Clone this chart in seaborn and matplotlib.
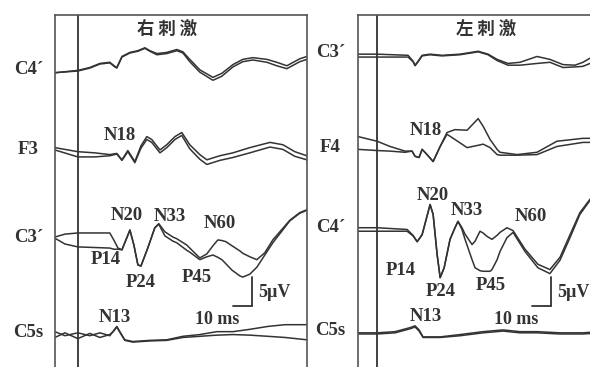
import numpy as np
import seaborn as sns
import matplotlib.pyplot as plt

# ---- traces: time (ms) and two overlaid sweeps (uV, relative to baseline) ----
# right stimulation (left panel)
r_c4_t = [-12.1, 0, 6.3, 11.6, 16.8, 19.5, 20.5, 23.2, 27.4, 31.6, 35.3, 37.9, 41.6, 46.8,
          52.1, 55.3, 58.9, 64.2, 71.1, 75.8, 81.6, 86.8, 92.1, 99.5, 104.7, 110.0, 116.8, 120.5]
r_c4_a = [-0.2, 0.2, 0.7, 1.4, 1.6, 0.9, 0.7, 2.6, 3.3, 3.6, 4.1, 3.6, 3.1, 3.3,
          3.8, 3.4, 2.1, 0.3, -1.0, -0.3, 1.2, 2.1, 2.4, 2.1, 1.6, 1.0, 2.2, 2.6]
r_c4_b = [-0.2, 0.1, 0.6, 1.3, 1.5, 0.8, 0.6, 2.5, 3.2, 3.5, 4.0, 3.5, 2.9, 3.1,
          3.6, 3.2, 1.7, -0.1, -1.5, -0.8, 0.8, 1.7, 2.0, 1.6, 1.0, 0.5, 1.7, 2.1]

r_f3_t = [-12.1, 0, 8.9, 16.8, 20.5, 23.2, 26.3, 30.0, 33.2, 36.3, 38.9, 43.2, 46.8,
          51.1, 54.7, 58.9, 64.2, 67.9, 74.7, 81.6, 90.5, 101.1, 107.9, 114.2, 120.5]
r_f3_a = [0.7, 0, -0.2, -0.5, -0.3, -1.4, 0.2, -1.7, 1.0, 2.6, 2.1, 0.3, 1.2,
          2.6, 3.3, 1.2, -0.5, -1.4, -0.7, -0.2, 0.7, 1.6, 1.2, 0, -0.7]
r_f3_b = [0.3, -0.9, -0.9, -0.7, -0.4, -1.5, 0.0, -1.9, 0.6, 2.1, 1.6, -0.2, 0.7,
          2.1, 2.8, 0.5, -1.3, -2.2, -1.5, -1.0, -0.2, 0.8, 0.4, -0.8, -1.4]

r_c3_t = [-12.1, -6.8, 0, 16.8, 18.9, 21.1, 23.2, 25.3, 27.4, 29.5, 31.6, 33.2, 36.8, 40.5,
          42.6, 45.8, 50.0, 52.1, 57.4, 58.9, 64.2, 67.9, 71.1, 73.7, 75.8, 77.9, 81.1, 85.3,
          86.8, 90.5, 94.2, 98.4, 102.6, 111.6, 116.8, 120.5]
r_c3_a = [0.5, 1.0, 1.2, 1.2, 0, -1.4, -1.7, 0, 1.7, -0.9, -4.3, -4.5, -1.4, 2.1,
          2.8, 1.4, 0.5, 0.2, -0.9, -1.4, -3.1, -2.4, -1.0, 0, -0.1, -0.3, -1.0, -1.9,
          -2.3, -2.9, -3.4, -2.2, 0, 3.4, 4.7, 5.2]
r_c3_b = [0.3, -0.7, -1.2, -1.4, -1.6, -1.6, -1.7, 0, 1.7, -0.9, -4.3, -4.5, -1.4, 2.1,
          2.7, 0.7, -0.2, -0.5, -1.8, -2.1, -3.4, -2.9, -2.6, -3.0, -3.4, -4.1, -5.2, -6.2,
          -6.4, -5.9, -4.7, -2.6, -0.5, 3.3, 4.6, 5.1]

r_c5_t = [-12.1, -6.8, 0, 6.3, 11.6, 16.8, 18.9, 20.5, 22.1, 24.7, 28.9, 37.9, 46.8,
          55.3, 64.2, 73.2, 81.6, 90.5, 100.0, 109.0, 120.5]
r_c5_a = [0.5, -0.2, 0.3, -0.2, 0.3, -0.2, 0.7, 1.4, 0.5, -0.9, -1.2, -1.0, -0.9,
          -0.3, 0, 0.5, 0.5, 0.9, 1.4, 1.7, 1.7]
r_c5_b = [-0.5, 0.3, -0.7, 0.2, -0.5, 0, 0.6, 1.3, 0.4, -1.0, -1.3, -1.1, -1.0,
          -0.5, -0.3, -0.1, 0, -0.1, -0.3, -0.5, -0.9]

# left stimulation (right panel)
l_c3_t = [-10, 0, 16.3, 18.9, 20, 21.6, 23.7, 27.9, 34.2, 43.7, 53.2, 58.4, 63.2, 68.9,
          75.3, 84.2, 91, 97.9, 104.2, 108.4, 112.1, 117.4]
l_c3_a = [0.2, 0.2, 0, -1.0, -1.7, -1.0, 0, 0.2, 0, 0.2, 0.7, 0.2, -0.7, -1.4,
          -1.2, -0.2, -0.7, -1.6, -1.7, -1.2, -0.5, -0.2]
l_c3_b = [-0.3, -0.3, -0.3, -1.1, -1.8, -1.1, -0.1, 0.1, -0.1, 0.1, 0.6, 0.1, -0.9, -1.7,
          -1.7, -1.4, -1.2, -2.1, -2.0, -1.9, -1.4, -0.9]

l_f4_t = [-10, 0, 6.8, 14.7, 18.4, 20, 22.1, 23.7, 26.3, 29.5, 33.2, 36.8, 41, 47.4,
          53.2, 55.8, 59.5, 63.2, 64.7, 73.7, 84.2, 94.7, 108.4, 117.4]
l_f4_a = [2.2, 1.4, 0.5, -0.3, -0.3, -1.2, -1.4, 0, -0.9, -2.1, 0.5, 2.9, 3.4, 3.3,
          5.3, 4.0, 1.7, 0, -0.5, -0.9, -0.5, 1.4, 1.9, 1.9]
l_f4_b = [0, -0.2, -0.3, -0.5, -0.3, -1.2, -1.4, 0, -0.9, -2.1, 0.5, 2.6, 1.7, 0.3,
          0.7, 0.9, 0.3, -0.9, -1.0, -1.0, -0.9, 0.5, 1.2, 1.2]

l_c4_t = [-10, 0, 15.8, 18.9, 21.1, 23.7, 25.8, 27.9, 29.5, 31.6, 33.2, 35.3, 38.4, 41,
          42.6, 44.7, 46.3, 50, 51.6, 54.2, 55.8, 57.9, 59.5, 60.5, 63.2, 64.7, 68.4, 71.6,
          77.9, 84.7, 91, 96.3, 101.6, 106.8, 112.1, 117.4]
l_c4_a = [0.3, 0.3, 0, -1.0, -2.1, -0.9, 1.7, 4.3, 2.6, -4.3, -8.3, -6.6, -1.7, 0.3,
          1.4, 0.3, -0.8, -2.6, -2.0, -0.3, -0.6, -1.2, -1.5, -1.7, -1.0, -0.5, 0.3, -0.2,
          -3.4, -6.0, -6.9, -4.8, -0.9, 2.9, 5.2, 6.9]
l_c4_b = [-0.3, -0.3, -0.3, -1.1, -2.1, -0.9, 1.7, 4.3, 2.6, -4.3, -8.3, -6.6, -1.7, 0.3,
          1.4, 0.0, -1.7, -5.2, -6.6, -7.1, -7.2, -7.2, -7.2, -6.9, -5.2, -3.8, -1.4, -0.5,
          -3.8, -6.6, -7.6, -5.3, -1.4, 2.6, 5.0, 6.7]

l_c5_t = [-10, 0, 9.5, 17.4, 20, 22.1, 24.2, 33.2, 43.7, 55.8, 66.3, 75.3, 84.2, 96.3, 108.4, 117.4]
l_c5_a = [0, 0, 0.2, 0.9, 1.2, 0.5, -0.7, -0.7, -0.3, 0.2, 0.5, 0.2, 0.2, 0, 0, 0.2]
l_c5_b = [-0.2, -0.2, 0, 0.7, 1.0, 0.3, -0.8, -0.8, -0.5, 0, 0.3, 0, 0, -0.2, -0.2, 0]

# channel names and their vertical offsets (uV)
r_names = ["C4\u00b4", "F3", "C3\u00b4", "C5s"]
r_offsets = [53.1, 39.3, 24.1, 7.8]
l_names = ["C3\u00b4", "F4", "C4\u00b4", "C5s"]
l_offsets = [55.9, 39.7, 25.9, 8.1]

# peak labels: (text, ms, uV)
r_peaks = [("N18", 22.1, 42.1), ("N20", 25.8, 28.3), ("N33", 48.4, 28.1), ("N60", 74.7, 26.9),
           ("P14", 14.7, 20.7), ("P24", 33.2, 16.7), ("P45", 62.6, 17.6), ("N13", 19.5, 10.7)]
l_peaks = [("N18", 25.8, 42.9), ("N20", 29.5, 31.7), ("N33", 47.4, 29.1), ("N60", 81.1, 28.1),
           ("P14", 12.6, 18.8), ("P24", 33.7, 15.3), ("P45", 60.0, 16.2), ("N13", 25.8, 10.9)]

sns.set_theme(style="white")
plt.rcParams['font.family'] = ['Liberation Serif', 'DejaVu Serif']

INK = "#333333"
fig = plt.figure(figsize=(5.9, 3.67), dpi=100)
ax_l = fig.add_axes([0.093, -0.035, 0.427, 0.995])
ax_r = fig.add_axes([0.607, -0.035, 0.41, 0.995])


def draw_panel(ax, traces, offsets, names, peaks, title, xlim, lab_x):
    for (t, a, b), off in zip(traces, offsets):
        for vals in (a, b):
            sns.lineplot(x=t, y=np.array(vals) + off, ax=ax, color=INK, lw=1.1,
                         estimator=None, sort=False, legend=False)
    ax.axvline(0, color=INK, lw=1.3)
    ax.set_xlim(*xlim)
    ax.set_ylim(0, 62.9)
    ax.set_xticks([])
    ax.set_yticks([])
    ax.set_xlabel("")
    ax.set_ylabel("")
    ax.spines['bottom'].set_visible(False)
    for s in ('left', 'top', 'right'):
        ax.spines[s].set_color("#555555")
        ax.spines[s].set_linewidth(1.2)
    for name, off in zip(names, offsets):
        ax.text(lab_x, off + 0.4, name, ha='center', va='center', fontsize=13.5,
                fontweight='bold', color=INK, clip_on=False)
    for txt, t, v in peaks:
        ax.text(t, v, txt, ha='center', va='center', fontsize=13.5,
                fontweight='bold', color=INK)
    # scale bars: 5 uV / 10 ms
    ax.plot([91.6, 91.6], [12.7, 17.7], color=INK, lw=1.3)
    ax.plot([81.6, 91.6], [12.7, 12.7], color=INK, lw=1.3)
    ax.text(95.0, 15.0, "5\u00b5V", ha='left', va='center', fontsize=13,
            fontweight='bold', color=INK, clip_on=False)
    ax.text(73.5, 10.4, "10 ms", ha='center', va='center', fontsize=13,
            fontweight='bold', color=INK)
    ax.text(title[1], 60.3, title[0], ha='center', va='center', fontsize=12.5,
            fontweight='heavy', color=INK, family=['Noto Sans CJK SC', 'DejaVu Sans'])


draw_panel(ax_l,
           [(r_c4_t, r_c4_a, r_c4_b), (r_f3_t, r_f3_a, r_f3_b),
            (r_c3_t, r_c3_a, r_c3_b), (r_c5_t, r_c5_a, r_c5_b)],
           r_offsets, r_names, r_peaks, ("右 刺 激", 46.8), (-12.1, 120.5), -26.0)
draw_panel(ax_r,
           [(l_c3_t, l_c3_a, l_c3_b), (l_f4_t, l_f4_a, l_f4_b),
            (l_c4_t, l_c4_a, l_c4_b), (l_c5_t, l_c5_a, l_c5_b)],
           l_offsets, l_names, l_peaks, ("左 刺 激", 57.4), (-10, 117.4), -24.5)

fig.savefig("out.png", dpi=100)
